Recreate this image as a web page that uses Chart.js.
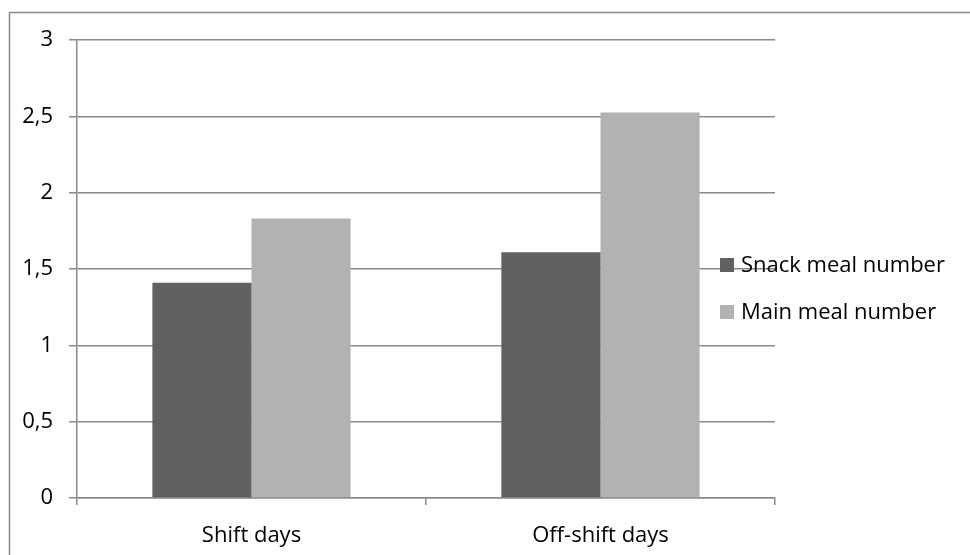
<!DOCTYPE html>
<html>
<head>
<meta charset="utf-8">
<script src="https://cdn.jsdelivr.net/npm/chart.js@4.4.1/dist/chart.umd.min.js"></script>
<style>
  html, body { margin: 0; padding: 0; background: #fff; }
  #wrap { width: 970px; height: 555px; }
</style>
</head>
<body>
<div id="wrap"><canvas id="mealChart" width="970" height="555"></canvas></div>
<script>
// ============================
// Dados
// ============================
const categories = ["Shift days", "Off-shift days"];
const seriesNames = ["Snack meal number", "Main meal number"];
const snackMeals = [1.41, 1.61];
const mainMeals = [1.83, 2.525];
const yTickValues = [0, 0.5, 1, 1.5, 2, 2.5, 3];
const yTickLabels = ["0", "0,5", "1", "1,5", "2", "2,5", "3"];

const FONT = "'Open Sans', sans-serif";
const FONT_SIZE = 22;
const GRID = "#8a8a8a";
const colors = ["#616161", "#b2b2b2"];

// borda externa (o quadro do Excel)
const frame = {
    id: "frame",
    beforeDraw(chart) {
        const c = chart.ctx;
        c.save();
        c.strokeStyle = GRID;
        c.lineWidth = 1.5;
        c.strokeRect(9.5, 12.5, 1000, 600);
        c.restore();
    }
};

// legenda desenhada à mão, sobre a área do gráfico
const sideLegend = {
    id: "sideLegend",
    afterDraw(chart) {
        const c = chart.ctx;
        c.save();
        c.font = FONT_SIZE + "px " + FONT;
        c.textBaseline = "middle";
        chart.data.datasets.forEach((ds, i) => {
            const y = 265 + i * 47;
            c.fillStyle = ds.backgroundColor;
            c.fillRect(720, y - 7, 14, 14);
            c.fillStyle = "#000";
            c.fillText(ds.label, 741, y + 1);
        });
        c.restore();
    }
};

new Chart(document.getElementById("mealChart"), {
    type: "bar",
    data: {
        labels: categories,
        datasets: [
            { label: seriesNames[0], data: snackMeals, backgroundColor: colors[0] },
            { label: seriesNames[1], data: mainMeals, backgroundColor: colors[1] }
        ]
    },
    options: {
        responsive: false,
        animation: false,
        devicePixelRatio: 1,
        layout: { padding: { top: 40, right: 195, left: 0, bottom: 0 } },
        datasets: { bar: { barPercentage: 1, categoryPercentage: 0.568 } },
        plugins: { legend: { display: false }, tooltip: { enabled: false } },
        scales: {
            x: {
                grid: { drawOnChartArea: false, drawTicks: true, tickLength: 7, color: GRID, lineWidth: 1.5, offset: true },
                border: { display: true, color: GRID, width: 1.5 },
                ticks: { color: "#000", font: { family: FONT, size: FONT_SIZE }, padding: 18 },
                afterFit(scale) { scale.height = 57; }
            },
            y: {
                min: 0,
                max: 3,
                afterBuildTicks(scale) { scale.ticks = yTickValues.map(v => ({ value: v })); },
                grid: { color: GRID, lineWidth: 1.5, tickLength: 8 },
                border: { display: true, color: GRID, width: 1.5 },
                ticks: {
                    color: "#000",
                    font: { family: FONT, size: FONT_SIZE },
                    padding: 16,
                    callback: (v) => yTickLabels[yTickValues.indexOf(v)]
                },
                afterFit(scale) { scale.width = 77; }
            }
        }
    },
    plugins: [frame, sideLegend]
});
</script>
</body>
</html>
